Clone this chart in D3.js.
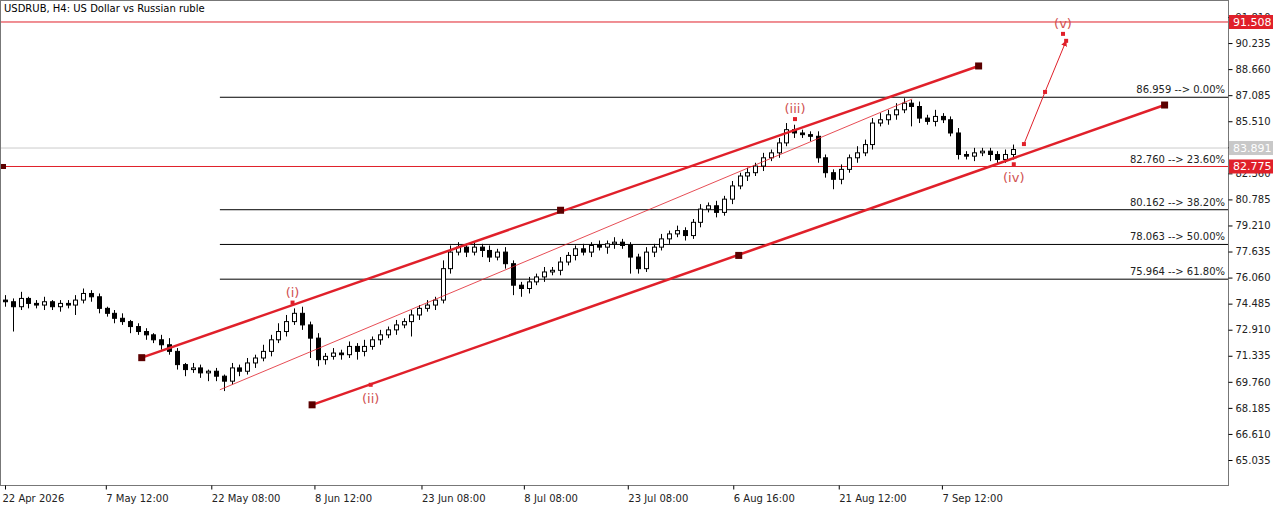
<!DOCTYPE html><html><head><meta charset="utf-8">
<script src="https://cdn.jsdelivr.net/npm/d3@7"></script>
<style>body{margin:0;background:#fff}text{font-family:"DejaVu Sans",sans-serif}</style></head><body>
<svg id="c" width="1280" height="505"></svg>
<script>
const closes=[74.6,74.3,74.8,74.5,74.4,74.6,74.3,74.5,74.4,74.7,75.1,74.9,
74.2,73.9,73.6,73.4,73.1,72.8,72.6,72.3,72.0,71.6,
70.8,70.5,70.6,70.3,70.4,70.1,69.8,
70.6,70.4,70.9,71.2,71.6,72.3,72.8,73.4,73.9,
73.2,72.4,71.1,71.3,71.5,
71.4,71.9,71.6,71.9,72.3,72.6,72.9,73.2,73.4,73.8,
74.2,74.4,74.7,76.6,77.6,77.9,
77.6,77.9,77.7,77.3,77.6,76.9,75.6,
75.4,75.8,76.1,76.4,76.5,77.0,77.4,
77.8,77.6,78.0,77.9,78.1,78.2,78.0,77.3,
76.6,77.6,77.9,78.4,78.7,78.9,78.6,
79.4,80.2,80.4,80.0,80.8,81.6,82.2,82.4,
82.8,83.3,83.6,84.2,85.0,84.8,
84.7,84.6,83.3,82.4,82.0,
82.6,83.3,83.6,84.1,85.4,85.6,85.9,
86.2,86.6,86.4,85.7,85.5,85.8,85.6,
84.8,83.5,83.4,83.6,83.7,83.5,83.2,83.5,83.8];
const wickUp=[.3,.2,.4,.1,.2,.3,.1,.2,.2,.3,.3,.2, .2,.1,.2,.3,.1,.2,.2,.1,.3,.4, .2,.1,.3,.2,.1,.2,.1, .3,.2,.3,.2,.4,.3,.5,.4,.3, .4,.2,.3,.2,.3, .2,.3,.2,.4,.2,.3,.2,.3,.2,.3, .2,.3,.2,.5,.4,.3, .2,.3,.2,.3,.2,.3,.2, .2,.3,.2,.3,.2,.3,.2, .2,.3,.2,.3,.2,.3,.2,.2, .2,.3,.2,.3,.2,.3,.2, .2,.3,.2,.3,.2,.3,.2,.3, .2,.3,.2,.3,.4,.3, .2,.2,.3,.2,.2, .3,.2,.4,.3,.3,.4,.3, .4,.3,.2,.3,.2,.4,.2, .2,.3,.2,.3,.2,.2,.2,.3,.3];
const wickDn=[.3,1.5,.2,.3,.2,.3,.2,.3,.2,.6,.2,.3, .3,.2,.3,.2,.4,.2,.3,.2,.3,.2, .3,.4,.2,.3,.5,.3,.6, .2,.3,.2,.3,.2,.3,.2,.3,.2, .3,1.2,.4,.3,.2, .3,.2,.5,.3,.2,.3,.2,.3,.2,.9, .3,.2,.3,.2,.3,.2, .3,.2,.4,.3,.2,.3,.6, .5,.3,.2,.3,.2,.3,.2, .3,.2,.3,.2,.4,.3,.2,1.0, .3,.2,.3,.2,.3,.2,.3, .2,.3,.2,.3,.2,.3,.2,.3, .2,.3,.2,.3,.2,.3, .2,.3,.3,.3,.6, .3,.2,.3,.2,.3,.2,.3, .3,.2,1.2,.3,.2,.3,.2, .2,.3,.2,.3,.2,.4,.3,.2,.3];
const yTicks=[91.810,90.235,88.660,87.085,85.510,83.935,82.360,80.785,79.210,77.635,76.060,74.485,72.910,71.335,69.760,68.185,66.610,65.035];
const xLabels=["22 Apr 2026","7 May 12:00","22 May 08:00","8 Jun 12:00","23 Jun 08:00","8 Jul 08:00","23 Jul 08:00","6 Aug 16:00","21 Aug 12:00","7 Sep 12:00"];
const xLabelIdx=[0,12.9,26.4,39.6,53.3,66.4,79.7,93.2,106.7,119.9];
const fibLevels=[86.959,82.760,80.162,78.063,75.964];
const fibTexts=["86.959 --> 0.00%","82.760 --> 23.60%","80.162 --> 38.20%","78.063 --> 50.00%","75.964 --> 61.80%"];
const fibStart=27.5;
const channelUpper=[[17.5,71.22],[71.1,80.13],[124.6,88.85]];
const channelLower=[[39.3,68.37],[93.9,77.4],[148.4,86.49]];
const channelMid=[[27.5,69.28],[116.1,86.85]];
const waveNames=["(i)","(ii)","(iii)","(iv)","(v)"];
const wavePts=[[36.8,74.55],[46.8,69.58],[101.1,85.64],[129.1,82.91],[135.4,90.79]];
const waveAbove=[true,false,true,false,true];
const projection=[[130.4,84.13],[133.1,87.28],[135.8,90.37]];
const redLevels=[91.508,82.775];
const currentPrice=83.891;

const svg=d3.select("#c");
const W=1228,H=485;
const x=d3.scaleLinear().domain([0,129]).range([5,1013]);
const y=d3.scaleLinear().domain([65.035,91.810]).range([460,17]);
const red="#e0202a",dark="#5a0000";
svg.append("text").attr("x",4).attr("y",12).attr("font-size",10).text("USDRUB, H4:  US Dollar vs Russian ruble");
// fib lines
fibLevels.forEach((v,i)=>{
  if(i!==1) svg.append("line").attr("x1",x(fibStart)).attr("x2",W).attr("y1",y(v)).attr("y2",y(v)).attr("stroke","#000").attr("stroke-width",1);
  svg.append("text").attr("x",W-3).attr("y",y(v)-4).attr("text-anchor","end").attr("font-size",10).attr("fill","#222").text(fibTexts[i]);
});
svg.append("line").attr("x1",0).attr("x2",W).attr("y1",y(currentPrice)).attr("y2",y(currentPrice)).attr("stroke","#ccc");
redLevels.forEach(v=>svg.append("line").attr("x1",0).attr("x2",W).attr("y1",y(v)).attr("y2",y(v)).attr("stroke",red).attr("stroke-width",1));
svg.append("rect").attr("x",1).attr("y",y(82.775)-2.5).attr("width",5).attr("height",5).attr("fill",dark);
// candles
const bw=4;
closes.forEach((c,i)=>{
  const o=i?closes[i-1]:c+0.1;
  const hi=Math.max(o,c)+wickUp[i], lo=Math.min(o,c)-wickDn[i];
  const cx=Math.round(x(i))+0.5;
  svg.append("line").attr("x1",cx).attr("x2",cx).attr("y1",y(hi)).attr("y2",y(lo)).attr("stroke","#000");
  const t=y(Math.max(o,c)),b=y(Math.min(o,c));
  svg.append("rect").attr("x",cx-bw/2).attr("y",t).attr("width",bw).attr("height",Math.max(1,b-t))
    .attr("fill",c>=o?"#fff":"#000").attr("stroke","#000").attr("stroke-width",1);
});
const line=d3.line().x(d=>x(d[0])).y(d=>y(d[1]));
[channelUpper,channelLower].forEach(p=>{
  svg.append("path").attr("d",line([p[0],p[2]])).attr("stroke",red).attr("stroke-width",2.5).attr("fill","none");
  p.forEach(d=>svg.append("rect").attr("x",x(d[0])-3.5).attr("y",y(d[1])-3.5).attr("width",7).attr("height",7).attr("fill",dark));
});
svg.append("path").attr("d",line(channelMid)).attr("stroke",red).attr("stroke-width",0.8).attr("fill","none");
svg.append("defs").append("marker").attr("id","ar").attr("viewBox","0 0 10 10").attr("refX",9).attr("refY",5).attr("markerWidth",6).attr("markerHeight",6).attr("orient","auto")
 .append("path").attr("d","M0,0L10,5L0,10z").attr("fill",red);
svg.append("path").attr("d",line(projection)).attr("stroke",red).attr("stroke-width",1).attr("fill","none").attr("marker-end","url(#ar)");
projection.forEach(d=>svg.append("rect").attr("x",x(d[0])-2).attr("y",y(d[1])-2).attr("width",4).attr("height",4).attr("fill",red));
wavePts.forEach((d,i)=>{
  svg.append("rect").attr("x",x(d[0])-2).attr("y",y(d[1])-2).attr("width",4).attr("height",4).attr("fill",red);
  svg.append("text").attr("x",x(d[0])).attr("y",waveAbove[i]?y(d[1])-6:y(d[1])+18).attr("text-anchor","middle").attr("font-size",13).attr("fill","#d05050").text(waveNames[i]);
});
// frame & axes
svg.append("rect").attr("x",0.5).attr("y",0.5).attr("width",W).attr("height",H).attr("fill","none").attr("stroke","#777");
const ya=svg.append("g").attr("transform",`translate(${W+0.5},0)`).call(d3.axisRight(y).tickValues(yTicks).tickSize(4).tickFormat(d3.format(".3f")));
ya.select(".domain").remove();ya.selectAll("text").attr("font-size",10).attr("fill","#222").attr("font-family","DejaVu Sans");
const xa=svg.append("g").attr("transform",`translate(0,${H+0.5})`).call(d3.axisBottom(x).tickValues(xLabelIdx).tickSize(4).tickFormat((d,i)=>xLabels[i]));
xa.select(".domain").remove();xa.selectAll("text").attr("font-size",10).attr("fill","#222").attr("text-anchor","start").attr("font-family","DejaVu Sans").attr("dy","0.9em");
xa.select(".tick text").attr("dx",-3);
// price boxes
[[91.508,red,"#fff"],[currentPrice,"#c8c8c8","#fff"],[82.775,red,"#fff"]].forEach(([v,bg,fg])=>{
  svg.append("rect").attr("x",W+1).attr("y",y(v)-7).attr("width",44).attr("height",14).attr("fill",bg);
  svg.append("text").attr("x",W+5).attr("y",y(v)+4).attr("font-size",11).attr("fill",fg).text(d3.format(".3f")(v));
});
</script></body></html>
